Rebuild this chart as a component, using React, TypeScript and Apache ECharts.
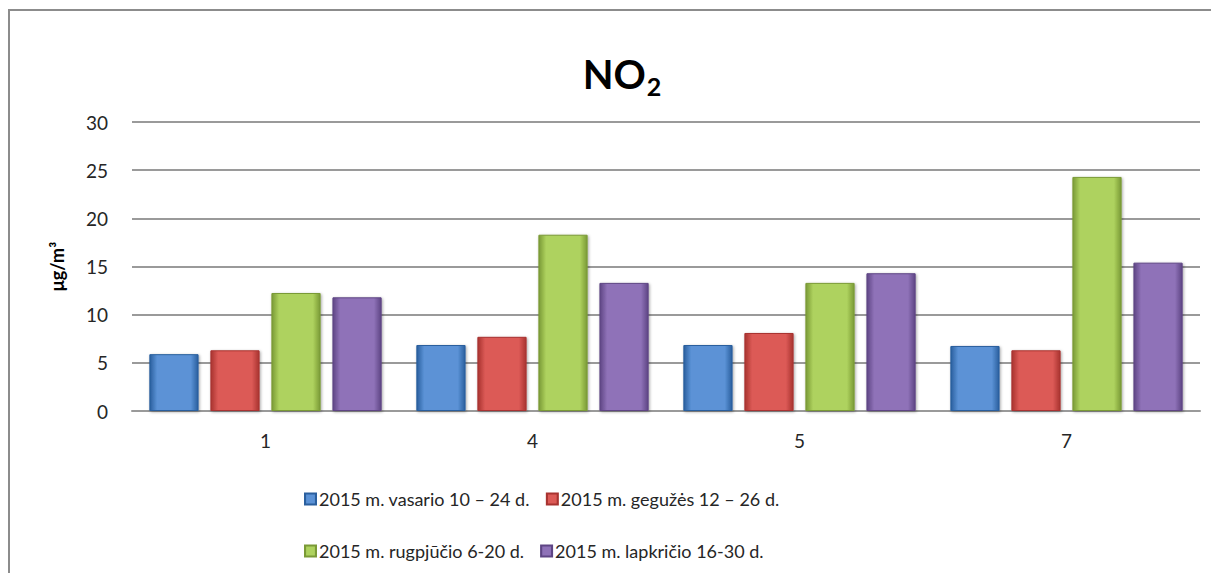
import React, { useEffect, useRef } from "react";
import * as echarts from "echarts";

const categories = ["1", "4", "5", "7"];
const seriesNames = [
  "2015 m. vasario 10 – 24 d.",
  "2015 m. gegužės 12 – 26 d.",
  "2015 m. rugpjūčio 6-20 d.",
  "2015 m. lapkričio 16-30 d.",
];
const vasario = [5.9, 6.85, 6.85, 6.75];
const geguzes = [6.3, 7.7, 8.1, 6.3];
const rugpjucio = [12.25, 18.3, 13.3, 24.3];
const lapkricio = [11.8, 13.3, 14.3, 15.4];
const yTicks = { min: 0, max: 30, interval: 5 };

const colors = [
  ["#2a5f9e", "#5b92d6", "#2a5f9e"],
  ["#a83330", "#dc5a56", "#a83330"],
  ["#7a9a36", "#aed25e", "#7a9a36"],
  ["#5e4584", "#8f72b8", "#5e4584"],
];
const flat = ["#4a7ebb", "#c0504d", "#9bbb59", "#8064a2"];

export default function App() {
  const ref = useRef<HTMLDivElement>(null);
  useEffect(() => {
    if (!ref.current) return;
    const chart = echarts.init(ref.current, null, { renderer: "svg" });
    const values = [vasario, geguzes, rugpjucio, lapkricio];
    const font = "Lato, 'Noto Sans', sans-serif";
    const legendText = { fontSize: 18, fontFamily: font, color: "#262626", padding: [0, 0, 0, -2] };
    chart.setOption({
      animation: false,
      backgroundColor: "#ffffff",
      title: {
        text: "{a|NO}{b|2}",
        left: 609,
        top: 37,
        textAlign: "center",
        textStyle: {
          rich: {
            a: { fontSize: 40, fontWeight: "bold", fontFamily: font, color: "#000" },
            b: { fontSize: 25, fontWeight: "bold", fontFamily: font, color: "#000", verticalAlign: "bottom", padding: [23, 0, 0, 1] },
          },
        },
      },
      graphic: [
        {
          type: "rect",
          shape: { x: 1, y: 2, width: 1212, height: 620 },
          style: { fill: "none", stroke: "#8c8c8c", lineWidth: 2 },
          silent: true,
        },
      ],
      legend: [
        {
          data: seriesNames.slice(0, 2),
          left: 291,
          top: 477,
          itemWidth: 11,
          itemHeight: 11,
          itemGap: 16,
          icon: "rect",
          textStyle: legendText,
        },
        {
          data: seriesNames.slice(2, 4),
          left: 291,
          top: 529,
          itemWidth: 11,
          itemHeight: 11,
          itemGap: 16,
          icon: "rect",
          textStyle: legendText,
        },
      ],
      grid: { left: 124, right: 11, top: 114, height: 289, containLabel: false },
      xAxis: {
        type: "category",
        data: categories,
        axisLine: { show: true, lineStyle: { color: "#9a9a9a", width: 2 } },
        axisTick: { show: false },
        axisLabel: { fontSize: 19, fontFamily: font, color: "#262626", margin: 20 },
      },
      yAxis: {
        type: "value",
        min: yTicks.min,
        max: yTicks.max,
        interval: yTicks.interval,
        name: "μg/m³",
        nameLocation: "middle",
        nameGap: 66,
        nameRotate: 90,
        nameTextStyle: { fontSize: 18, fontWeight: "bold", fontFamily: font, color: "#000" },
        axisLine: { show: false },
        axisTick: { show: false },
        axisLabel: { fontSize: 19, fontFamily: font, color: "#262626", margin: 24 },
        splitLine: { lineStyle: { color: "#9a9a9a", width: 2 } },
      },
      series: seriesNames.map((name, i) => ({
        name,
        type: "bar",
        data: values[i],
        barGap: "24%",
        barCategoryGap: "13%",
        itemStyle: {
          color: new echarts.graphic.LinearGradient(0, 0, 1, 0, [
            { offset: 0, color: colors[i][0] },
            { offset: 0.15, color: colors[i][1] },
            { offset: 0.85, color: colors[i][1] },
            { offset: 1, color: colors[i][2] },
          ]),
          borderColor: colors[i][0],
          borderWidth: 1,
          shadowColor: "rgba(0,0,0,0.35)",
          shadowBlur: 3,
          shadowOffsetX: 1,
          shadowOffsetY: 1,
        },
      })),
      color: flat,
    });
    return () => chart.dispose();
  }, []);
  return <div ref={ref} style={{ width: 1203, height: 565 }} />;
}
